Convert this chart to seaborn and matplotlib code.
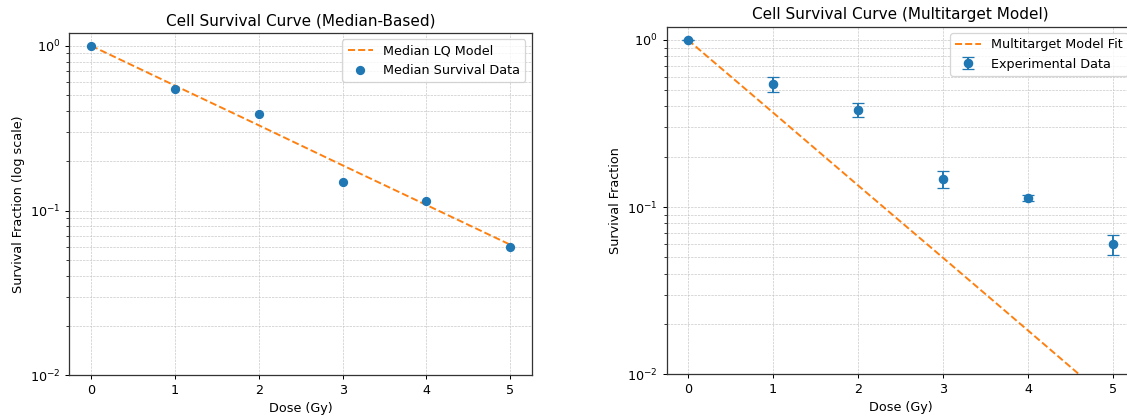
import numpy as np
import pandas as pd
import matplotlib
matplotlib.use("Agg")
import matplotlib.pyplot as plt
import seaborn as sns

# ---- data ----
dose = [0, 1, 2, 3, 4, 5]
median_survival = [1.0, 0.544, 0.383, 0.148, 0.114, 0.060]
lq_model = [1.0, 0.573, 0.329, 0.188, 0.108, 0.062]
survival_err = [0.0, 0.053, 0.039, 0.0175, 0.0045, 0.0082]
multitarget_model = [1.0, 0.368, 0.135, 0.0498, 0.0183, 0.0067]

DPI = 91.7
W, H = 1127, 417
plt.rcParams["axes.linewidth"] = 1.0
plt.rcParams["axes.edgecolor"] = "#333333"
fig = plt.figure(figsize=(W / DPI, H / DPI), dpi=DPI)

def px_axes(x0, ytop, x1, ybot):
    return fig.add_axes([x0 / W, (H - ybot) / H, (x1 - x0) / W, (ybot - ytop) / H])

ax1 = px_axes(69.3, 32.7, 531.7, 375.3)
ax2 = px_axes(666.7, 26.7, 1134.2, 374.3)

df = pd.DataFrame({"dose": dose, "median": median_survival, "lq": lq_model,
                   "err": survival_err, "mt": multitarget_model})

grid_kw = dict(which="both", linestyle="--", linewidth=0.5, color="#c4c4c4")

# Left panel
sns.lineplot(data=df, x="dose", y="lq", ax=ax1, color="C1", linestyle="--",
             label="Median LQ Model")
sns.scatterplot(data=df, x="dose", y="median", ax=ax1, color="C0", s=53,
                linewidth=0, label="Median Survival Data", zorder=3)
ax1.set_yscale("log")
ax1.set_ylim(1e-2, 1.2)
ax1.set_xlim(-0.26, 5.255)
ax1.set_title("Cell Survival Curve (Median-Based)")
ax1.set_xlabel("Dose (Gy)")
ax1.set_ylabel("Survival Fraction (log scale)")
ax1.grid(True, **grid_kw)
ax1.legend(loc="upper right")

# Right panel
sns.lineplot(data=df, x="dose", y="mt", ax=ax2, color="C1", linestyle="--",
             label="Multitarget Model Fit")
ax2.errorbar(df["dose"], df["median"], yerr=df["err"], fmt="o", color="C0",
             markersize=6.5, capsize=5, label="Experimental Data", zorder=3)
ax2.set_yscale("log")
ax2.set_ylim(1e-2, 1.2)
ax2.set_xlim(-0.25, 5.25)
ax2.set_title("Cell Survival Curve (Multitarget Model)")
ax2.set_xlabel("Dose (Gy)")
ax2.set_ylabel("Survival Fraction")
ax2.grid(True, **grid_kw)
ax2.legend(loc="upper right")

for ax in (ax1, ax2):
    ax.set_xticks(dose)

fig.savefig("out.png", dpi=DPI)
